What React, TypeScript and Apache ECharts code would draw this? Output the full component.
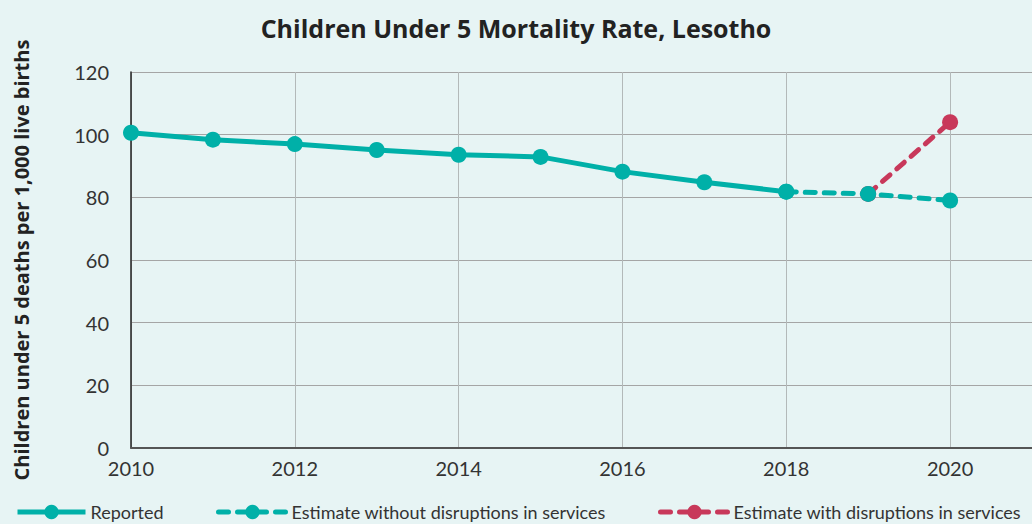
import React, { useEffect, useRef } from "react";
import * as echarts from "echarts";

const reportedYears = [2010, 2011, 2012, 2013, 2014, 2015, 2016, 2017, 2018];
const reportedValues = [100.6, 98.4, 97.0, 95.1, 93.6, 92.9, 88.2, 84.8, 81.8];
const withoutYears = [2018, 2019, 2020];
const withoutValues = [81.8, 81.1, 79.0];
const withYears = [2019, 2020];
const withValues = [81.1, 104.0];
const seriesNames = [
  "Reported",
  "Estimate without disruptions in services",
  "Estimate with disruptions in services",
];

const TEAL = "#00b0a8";
const RED = "#c8385a";
const FONT = "Lato, 'Open Sans', sans-serif";
const BOLD_FONT = "'Open Sans', Lato, sans-serif";

function pairs(xs: number[], ys: number[]) {
  return xs.map((x, i) => [x, ys[i]]);
}

export default function App() {
  const ref = useRef<HTMLDivElement>(null);
  useEffect(() => {
    if (!ref.current) return;
    const chart = echarts.init(ref.current, undefined, { renderer: "svg" });
    const legendCommon = {
      top: 498,
      itemWidth: 68,
      itemHeight: 18,
      itemGap: 10,
      lineStyle: { width: 5 },
      textStyle: { fontFamily: FONT, fontSize: 18, lineHeight: 18, color: "#333" },
    };
    chart.setOption({
      animation: false,
      backgroundColor: "#e7f4f4",
      title: {
        text: "Children Under 5 Mortality Rate, Lesotho",
        left: "center",
        top: 10,
        textStyle: { fontFamily: BOLD_FONT, fontSize: 25, fontWeight: "bold", color: "#222" },
      },
      legend: [
        { ...legendCommon, left: 10, data: [seriesNames[0]] },
        { ...legendCommon, left: 211, data: [seriesNames[1]] },
        { ...legendCommon, left: 653, data: [seriesNames[2]] },
      ],
      grid: { left: 131, right: 0, top: 72, bottom: 76, containLabel: false },
      xAxis: {
        type: "value",
        min: 2010,
        max: 2021,
        interval: 2,
        axisLine: { show: true, lineStyle: { color: "#555", width: 2 } },
        axisTick: { show: false },
        axisLabel: {
          showMaxLabel: false,
          formatter: (v: number) => String(v),
          fontFamily: FONT,
          fontSize: 20,
          color: "#333",
          margin: 10,
        },
        splitLine: { show: true, lineStyle: { color: "#b3b9b9", width: 1 } },
      },
      yAxis: {
        type: "value",
        min: 0,
        max: 120,
        interval: 20,
        name: "Children under 5 deaths per 1,000 live births",
        nameLocation: "middle",
        nameGap: 100,
        nameTextStyle: { fontFamily: BOLD_FONT, fontSize: 20, fontWeight: "bold", color: "#222" },
        axisLine: { show: true, lineStyle: { color: "#222", width: 1.5 } },
        axisTick: { show: false },
        axisLabel: { fontFamily: FONT, fontSize: 20, color: "#333", margin: 22 },
        splitLine: { show: true, lineStyle: { color: "#a5a5a5", width: 1 } },
      },
      series: [
        {
          name: seriesNames[0],
          type: "line",
          data: pairs(reportedYears, reportedValues),
          symbol: "circle",
          symbolSize: 16,
          itemStyle: { color: TEAL },
          lineStyle: { color: TEAL, width: 5 },
          z: 4,
        },
        {
          name: seriesNames[1],
          type: "line",
          data: pairs(withoutYears, withoutValues),
          symbol: "circle",
          symbolSize: 16,
          itemStyle: { color: TEAL },
          lineStyle: { color: TEAL, width: 5, type: [10, 9], cap: "round" },
          z: 3,
        },
        {
          name: seriesNames[2],
          type: "line",
          data: pairs(withYears, withValues),
          symbol: "circle",
          symbolSize: 16,
          itemStyle: { color: RED },
          lineStyle: { color: RED, width: 5, type: [10, 9], cap: "round" },
          z: 2,
        },
      ],
    });
    return () => chart.dispose();
  }, []);
  return (
    <div
      ref={ref}
      style={{ position: "fixed", left: 0, top: 0, width: 1032, height: 524 }}
    />
  );
}
